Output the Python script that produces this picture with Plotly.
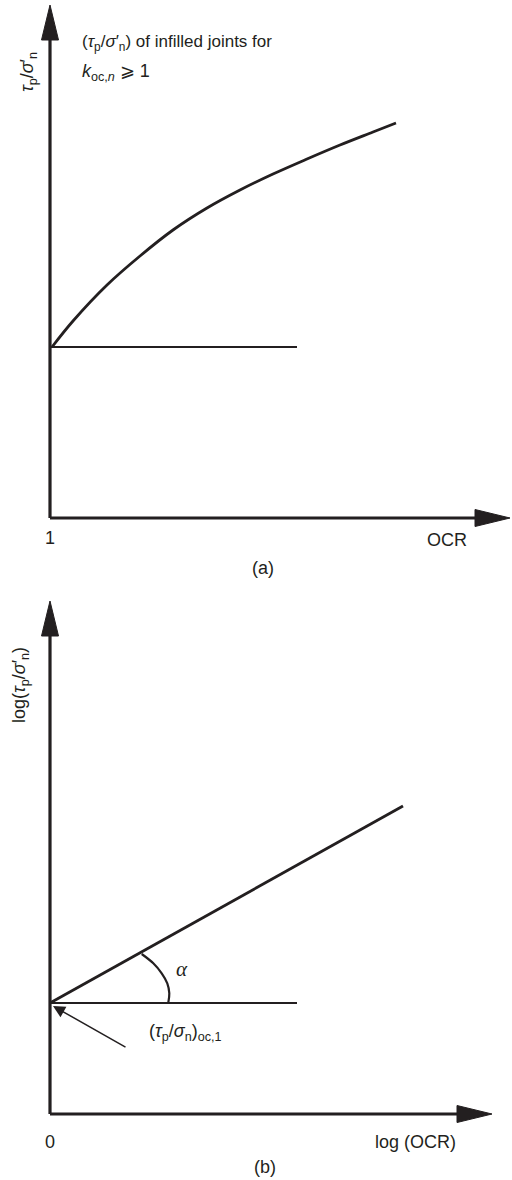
import plotly.graph_objects as go

# (a) tau_p/sigma'_n against OCR, schematic units
ocr_a = [1.02, 1.23, 1.57, 1.90, 2.23, 2.57, 2.90, 3.23, 3.57, 3.90, 4.23, 4.46]
ratio_a = [1.71, 1.97, 2.33, 2.62, 2.88, 3.10, 3.28, 3.44, 3.59, 3.73, 3.86, 3.95]
base_ocr_a = [1.0, 3.47]
base_ratio_a = [1.71, 1.71]
origin_a = (1.0, 0.0)
tip_a = (5.60, 5.13)

# (b) log(tau_p/sigma'_n) against log(OCR)
log_ocr_b = [0.0, 3.53]
log_ratio_b = [1.11, 3.08]
base_ocr_b = [0.0, 2.47]
base_ratio_b = [1.11, 1.11]
arc_x = [0.917, 1.033, 1.117, 1.173, 1.193, 1.183]
arc_y = [1.600, 1.507, 1.407, 1.307, 1.207, 1.113]
origin_b = (0.0, 0.0)
tip_b = (4.42, 5.13)

INK = "#231f20"
FONT = "Liberation Sans"
HEAD_L = 0.35   # arrowhead length (data units = 100 px)
HEAD_W = 0.085  # arrowhead half width

fig = go.Figure()


def add_axes(fig, origin, tip, xa, ya):
    ox, oy = origin
    tx, ty = tip
    # axis lines
    fig.add_trace(go.Scatter(x=[ox, ox], y=[oy, ty - HEAD_L], mode="lines",
                             line=dict(color=INK, width=3.2), xaxis=xa, yaxis=ya,
                             hoverinfo="skip", showlegend=False))
    fig.add_trace(go.Scatter(x=[ox, tx - HEAD_L], y=[oy, oy], mode="lines",
                             line=dict(color=INK, width=3.2), xaxis=xa, yaxis=ya,
                             hoverinfo="skip", showlegend=False))
    # arrowheads
    fig.add_trace(go.Scatter(x=[ox - HEAD_W, ox + HEAD_W, ox, ox - HEAD_W],
                             y=[ty - HEAD_L, ty - HEAD_L, ty, ty - HEAD_L],
                             mode="lines", fill="toself", fillcolor=INK,
                             line=dict(color=INK, width=1), xaxis=xa, yaxis=ya,
                             hoverinfo="skip", showlegend=False))
    fig.add_trace(go.Scatter(x=[tx - HEAD_L, tx - HEAD_L, tx, tx - HEAD_L],
                             y=[oy - HEAD_W, oy + HEAD_W, oy, oy - HEAD_W],
                             mode="lines", fill="toself", fillcolor=INK,
                             line=dict(color=INK, width=1), xaxis=xa, yaxis=ya,
                             hoverinfo="skip", showlegend=False))


add_axes(fig, origin_a, tip_a, "x", "y")
add_axes(fig, origin_b, tip_b, "x2", "y2")

# (a) curve and base line
fig.add_trace(go.Scatter(x=ocr_a, y=ratio_a, mode="lines", line_shape="spline",
                         line=dict(color=INK, width=2.8), showlegend=False))
fig.add_trace(go.Scatter(x=base_ocr_a, y=base_ratio_a, mode="lines",
                         line=dict(color=INK, width=1.8), showlegend=False))

# (b) straight line, base line and angle arc
fig.add_trace(go.Scatter(x=log_ocr_b, y=log_ratio_b, mode="lines",
                         line=dict(color=INK, width=2.8), xaxis="x2", yaxis="y2",
                         showlegend=False))
fig.add_trace(go.Scatter(x=base_ocr_b, y=base_ratio_b, mode="lines",
                         line=dict(color=INK, width=1.8), xaxis="x2", yaxis="y2",
                         showlegend=False))
fig.add_trace(go.Scatter(x=arc_x, y=arc_y, mode="lines", line_shape="spline",
                         line=dict(color=INK, width=2.2), xaxis="x2", yaxis="y2",
                         showlegend=False))

tf = dict(family=FONT, size=18, color=INK)
annotations = [
    # panel (a)
    dict(x=1.0, y=-0.20, xref="x", yref="y", text="1", showarrow=False, font=tf),
    dict(x=4.97, y=-0.22, xref="x", yref="y", text="OCR", showarrow=False, font=tf),
    dict(x=3.13, y=-0.50, xref="x", yref="y", text="(a)", showarrow=False, font=tf),
    dict(x=0.78, y=4.46, xref="x", yref="y", textangle=-90, showarrow=False, font=tf,
         text="<i>τ</i><sub>p</sub>/<i>σ</i>′<sub>n</sub>"),
    dict(x=1.30, y=4.75, xref="x", yref="y", xanchor="left", showarrow=False,
         font=dict(family=FONT, size=17, color=INK),
         text="(<i>τ</i><sub>p</sub>/<i>σ</i>′<sub>n</sub>) of infilled joints for"),
    dict(x=1.30, y=4.46, xref="x", yref="y", xanchor="left", showarrow=False, font=tf,
         text="<i>k</i><sub>oc,<i>n</i></sub> ⩾ 1"),
    # panel (b)
    dict(x=0.0, y=-0.28, xref="x2", yref="y2", text="0", showarrow=False, font=tf),
    dict(x=3.65, y=-0.28, xref="x2", yref="y2", text="log (OCR)", showarrow=False, font=tf),
    dict(x=2.15, y=-0.53, xref="x2", yref="y2", text="(b)", showarrow=False, font=tf),
    dict(x=-0.30, y=4.29, xref="x2", yref="y2", textangle=-90, showarrow=False, font=tf,
         text="log(<i>τ</i><sub>p</sub>/<i>σ</i>′<sub>n</sub>)"),
    dict(x=1.32, y=1.45, xref="x2", yref="y2", showarrow=False,
         font=dict(family="Liberation Serif", size=21, color=INK), text="<i>α</i>"),
    dict(x=0.97, y=0.82, xref="x2", yref="y2", xanchor="left", showarrow=False, font=tf,
         text="(<i>τ</i><sub>p</sub>/<i>σ</i><sub>n</sub>)<sub>oc,1</sub>"),
    # pointer to the intercept
    dict(x=0.03, y=1.08, xref="x2", yref="y2", ax=0.77, ay=0.66, axref="x2", ayref="y2",
         text="", showarrow=True, arrowhead=2, arrowsize=1.6, arrowwidth=1.5,
         arrowcolor=INK),
]

hidden = dict(visible=False, fixedrange=True)
fig.update_layout(
    width=512, height=1180,
    margin=dict(l=0, r=0, t=0, b=0),
    paper_bgcolor="white", plot_bgcolor="white",
    showlegend=False,
    xaxis=dict(domain=[0, 1], range=[0.5, 5.62], anchor="y", **hidden),
    yaxis=dict(domain=[0.50847, 1], range=[-0.62, 5.18], anchor="x", **hidden),
    xaxis2=dict(domain=[0, 1], range=[-0.5, 4.62], anchor="y2", **hidden),
    yaxis2=dict(domain=[0, 0.50847], range=[-0.66, 5.34], anchor="x2", **hidden),
    annotations=annotations,
)

# page body has a default 8px margin; drop it so the figure sits at the corner
fig.write_html("out.html", config={"displayModeBar": False},
               post_script="document.body.style.margin = '0';")
